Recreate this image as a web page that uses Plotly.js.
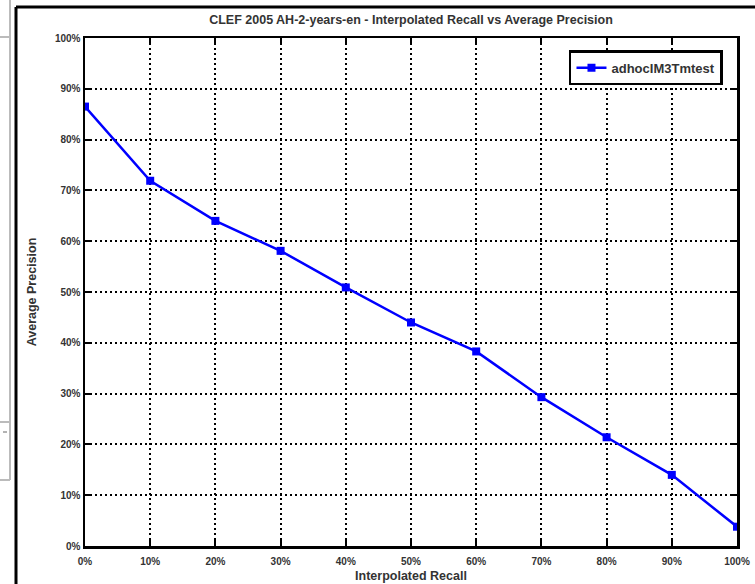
<!DOCTYPE html>
<html>
<head>
<meta charset="utf-8">
<script src="https://cdn.plot.ly/plotly-3.0.1.min.js"></script>
<style>html,body{margin:0;padding:0;background:#fff;}#chart{width:755px;height:584px;}</style>
</head>
<body>
<div id="chart"></div>
<script>
const recall = [0, 0.1, 0.2, 0.3, 0.4, 0.5, 0.6, 0.7, 0.8, 0.9, 1.0];
const precision = [0.865, 0.719, 0.640, 0.581, 0.509, 0.440, 0.383, 0.293, 0.214, 0.140, 0.038];
const runName = "adhocIM3Tmtest";
const tickVals = [0, 0.1, 0.2, 0.3, 0.4, 0.5, 0.6, 0.7, 0.8, 0.9, 1.0];
const tickText = ["0%", "10%", "20%", "30%", "40%", "50%", "60%", "70%", "80%", "90%", "100%"];

const fam = "Liberation Sans, Arial, sans-serif";
const tickFont = {family: fam, size: 10, color: "#333", weight: "bold"};
const titleFont = {family: fam, size: 12.5, color: "#333", weight: "bold"};

const trace = {
  x: recall, y: precision, type: "scatter", mode: "lines+markers", name: runName,
  line: {color: "#0000ff", width: 2.5},
  marker: {symbol: "square", size: 8, color: "#0000ff"}
};

const axisCommon = {
  range: [0, 1], tickvals: tickVals, ticktext: tickText,
  showline: true, linecolor: "#000", linewidth: 2.5, mirror: "ticks",
  ticks: "inside", ticklen: 6, tickwidth: 2, tickcolor: "#000",
  showgrid: true, gridcolor: "#000", gridwidth: 2, griddash: "2px,3px",
  zeroline: false, tickfont: tickFont, fixedrange: true
};

const layout = {
  width: 755, height: 584,
  margin: {l: 85, r: 18, t: 38, b: 38},
  paper_bgcolor: "#fff", plot_bgcolor: "#fff",
  font: tickFont,
  title: {text: "CLEF 2005 AH-2-years-en - Interpolated Recall vs Average Precision",
          font: titleFont,
          x: 0.5, xref: "paper", y: 0.966, yref: "container", yanchor: "middle"},
  xaxis: Object.assign({}, axisCommon, {
    ticklabelstandoff: 4,
    title: {text: "Interpolated Recall", font: titleFont, standoff: 6}
  }),
  yaxis: Object.assign({}, axisCommon, {
    title: {text: "Average Precision", font: titleFont, standoff: 16}
  }),
  showlegend: true,
  legend: {x: 0.9785, xanchor: "right", y: 0.976, yanchor: "top",
           bgcolor: "#fff", bordercolor: "#000", borderwidth: 2.5,
           font: {family: fam, size: 13, color: "#333", weight: "bold"}},
  shapes: [
    {type: "line", xref: "paper", yref: "paper", x0: (16-85)/652, x1: (760-85)/652, y0: (546-7)/508, y1: (546-7)/508, line: {color: "#000", width: 3}},
    {type: "line", xref: "paper", yref: "paper", x0: (16-85)/652, x1: (16-85)/652, y0: (546-7)/508, y1: (546-590)/508, line: {color: "#000", width: 3}},
    {type: "line", xref: "paper", yref: "paper", x0: (10-85)/652, x1: (10-85)/652, y0: (546+2)/508, y1: (546-480)/508, line: {color: "#bbb", width: 2}},
    {type: "line", xref: "paper", yref: "paper", x0: (-5-85)/652, x1: (10-85)/652, y0: (546-37)/508, y1: (546-37)/508, line: {color: "#bbb", width: 2}},
    {type: "line", xref: "paper", yref: "paper", x0: (-5-85)/652, x1: (10-85)/652, y0: (546-422)/508, y1: (546-422)/508, line: {color: "#bbb", width: 2}},
    {type: "line", xref: "paper", yref: "paper", x0: (-5-85)/652, x1: (10-85)/652, y0: (546-480)/508, y1: (546-480)/508, line: {color: "#bbb", width: 2}},
    {type: "line", xref: "paper", yref: "paper", x0: (3-85)/652, x1: (7-85)/652, y0: (546-432)/508, y1: (546-432)/508, line: {color: "#666", width: 1}}
  ]
};

Plotly.newPlot("chart", [trace], layout, {displayModeBar: false, staticPlot: true});
</script>
</body>
</html>
